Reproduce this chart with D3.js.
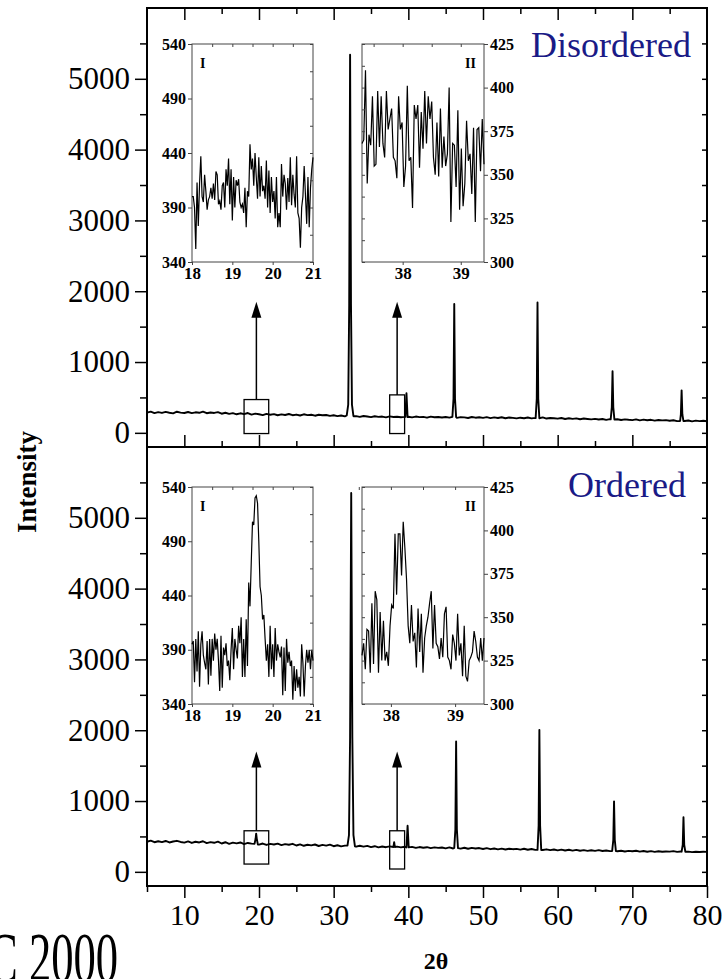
<!DOCTYPE html>
<html><head><meta charset="utf-8">
<script src="https://cdn.jsdelivr.net/npm/d3@7"></script>
<style>body{margin:0;background:#fff}</style>
</head><body>
<svg id="xrd" width="725" height="979"></svg>
<script>
// ---- data ----
var twoThetaTicks=[10,20,30,40,50,60,70,80];
var intensityTicks=[0,1000,2000,3000,4000,5000];

// background level every 0.5 deg from 5 to 80
var disorderedBase=[
 285,300,278,292,281,296,284,275,298,286,
 280,294,279,290,283,299,277,288,281,292,
 270,284,268,279,262,276,265,280,258,272,
 262,250,268,255,264,248,260,252,266,249,
 258,245,262,250,256,242,255,248,252,240,
 248,236,245,232,240,228,236,225,238,230,
 222,234,226,230,218,232,224,228,220,226,
 228,218,230,222,226,214,229,220,224,216,
 224,215,226,212,222,218,210,224,214,220,
 212,222,208,218,210,220,206,216,212,204,
 214,206,216,204,212,208,218,202,210,206,
 200,210,196,206,198,204,192,202,196,190,
 198,188,196,184,194,186,192,182,190,184,
 180,190,176,186,178,184,172,182,176,180,
 170,178,166,176,168,174,162,172,166,170,
 164];
var orderedBase=[
 425,440,418,432,420,436,415,428,438,422,
 412,430,408,425,415,432,405,420,410,426,
 400,418,396,412,402,415,392,408,398,412,
 385,400,380,395,386,398,378,392,382,396,
 372,388,368,382,374,386,365,380,370,384,
 362,375,360,370,358,372,355,368,356,366,
 350,362,346,358,348,360,344,356,345,354,
 342,352,338,350,340,348,335,346,338,344,
 332,345,330,342,328,340,326,338,330,336,
 322,334,320,330,318,328,316,326,320,324,
 314,326,312,322,310,320,308,318,306,316,
 304,314,302,312,300,310,298,306,296,304,
 296,306,294,302,292,300,290,298,288,296,
 290,298,286,294,284,292,282,290,284,288,
 286,292,282,288,280,286,278,284,280,284,
 282];

var disorderedPeaks=[
 [[31.75,245],[31.95,400],[32.08,1800],[32.2,5340],[32.32,1800],[32.45,400],[32.65,235]],
 [[39.6,225],[39.75,560],[39.9,222]],
 [[45.9,226],[46.05,480],[46.15,1820],[46.25,480],[46.4,222]],
 [[57.05,208],[57.2,480],[57.3,1840],[57.4,480],[57.55,206]],
 [[67.1,190],[67.25,360],[67.35,870],[67.45,360],[67.6,188]],
 [[76.4,168],[76.5,260],[76.6,600],[76.7,260],[76.85,166]]
];
var orderedPeaks=[
 [[19.4,395],[19.55,470],[19.62,540],[19.7,470],[19.85,385]],
 [[31.85,370],[32.05,520],[32.2,1900],[32.35,5350],[32.5,1900],[32.65,520],[32.85,360]],
 [[38.0,350],[38.1,420],[38.2,350]],
 [[39.75,345],[39.9,650],[40.05,345]],
 [[46.15,338],[46.3,600],[46.4,1840],[46.5,600],[46.65,335]],
 [[57.3,310],[57.45,650],[57.55,2005],[57.65,650],[57.8,308]],
 [[67.3,295],[67.45,450],[67.55,995],[67.65,450],[67.8,292]],
 [[76.6,285],[76.75,380],[76.85,770],[76.95,380],[77.1,284]]
];

// inset I: 18-21 deg, inset II: around 38 deg
var disI=[400,400,390,352,413,373,412,437,400,395,
 420,405,388,397,400,408,398,412,397,423,
 420,393,396,388,410,413,390,425,410,435,
 393,425,378,418,390,415,410,416,395,390,
 393,385,408,372,405,400,448,425,435,410,
 440,418,398,436,400,428,405,410,398,433,
 390,424,385,418,395,405,380,418,372,385,
 372,430,400,420,412,388,417,395,436,392,
 420,402,390,437,385,380,353,390,400,428,
 402,375,418,372,408,425,436];
var disII=[368,370,410,345,373,367,395,355,356,398,
 366,395,368,360,398,376,382,388,360,358,
 348,395,376,380,343,355,401,358,360,331,
 390,382,390,354,386,365,398,368,395,382,
 392,360,350,380,349,388,354,372,355,362,
 400,323,368,367,343,387,330,365,332,345,
 381,358,362,339,377,323,376,377,352,382,
 356];
var ordI=[395,398,360,400,370,407,356,395,407,385,
 378,372,398,358,400,366,400,380,405,390,
 400,380,352,403,355,392,385,396,375,380,
 362,390,410,372,400,390,382,412,396,420,
 365,400,365,418,375,452,
 430,470,508,505,530,532,525,490,448,440,418,422,
 400,380,395,365,412,372,395,365,410,380,
 395,388,383,393,348,392,352,400,378,388,
 375,380,344,375,352,372,355,365,347,395,
 378,347,375,390,378,390,372,390,380];
var ordII=[328,335,320,343,342,318,358,323,365,360,318,353,325,348,325,330,322,345,357,
 355,398,363,398,398,374,405,390,372,
 345,335,357,336,341,321,355,330,352,318,
 338,345,350,358,365,332,357,335,333,326,
 338,327,352,356,327,325,320,340,335,325,
 352,328,335,316,345,316,313,325,327,330,
 342,336,327,325,338,325,338];

var insetITicksX=[18,19,20,21], insetITicksY=[340,390,440,490,540];
var insetIITicksX=[38,39], insetIITicksY=[300,325,350,375,400,425];

// ---- drawing ----
var svg=d3.select("#xrd");
var serif="'Liberation Serif','Times New Roman',serif";
var navy="#1a1a86";

var x=d3.scaleLinear().domain([5,80]).range([147,707]);
var panels=[
 {name:"Disordered", base:disorderedBase, peaks:disorderedPeaks, top:8, bottom:447,
  insI:disI, insII:disII, iiDom:[37.3,39.4], iTop:44, iBot:262,
  box1:[18,21.3,-10,470], box2:[37.5,39.5,-10,536], arrowTip:1850, labelY:57, labelX:691},
 {name:"Ordered", base:orderedBase, peaks:orderedPeaks, top:447, bottom:886,
  insI:ordI, insII:ordII, iiDom:[37.55,39.45], iTop:487, iBot:704,
  box1:[18,21.3,110,580], box2:[37.5,39.5,40,580], arrowTip:1700, labelY:497, labelX:686}
];

function buildSeries(base,peaks){
  var pts=[];
  base.forEach(function(v,i){
    var t=5+i*0.5;
    var inPeak=peaks.some(function(p){return t>=p[0][0]&&t<=p[p.length-1][0];});
    if(!inPeak) pts.push([t,v]);
  });
  peaks.forEach(function(p){pts=pts.concat(p);});
  return pts.sort(function(a,b){return a[0]-b[0];});
}

function styleAxis(g,size,weight){
  g.select(".domain").remove();
  g.selectAll("line").attr("stroke","#000").attr("stroke-width",1.5);
  g.selectAll("text").attr("font-family",serif).attr("font-size",size)
   .attr("font-weight",weight||"normal").attr("fill","#000");
}
var fmt=d3.format("d");

panels.forEach(function(P,pi){
  var y=d3.scaleLinear().domain([-200,6000]).range([P.bottom,P.top]);
  var g=svg.append("g");

  // left axis
  g.append("g").attr("transform","translate(147,0)")
   .call(d3.axisLeft(y).tickValues(intensityTicks).tickSize(12).tickPadding(5).tickFormat(fmt))
   .call(styleAxis,"31px");
  g.append("g").attr("transform","translate(147,0)")
   .call(d3.axisLeft(y).tickValues([500,1500,2500,3500,4500,5500]).tickSize(7).tickFormat(""))
   .call(styleAxis,"1px");
  // right axis, inward
  g.append("g").attr("transform","translate(707,0)")
   .call(d3.axisRight(y).tickValues(d3.range(0,6000,500)).tickSize(-5).tickFormat(""))
   .call(styleAxis,"1px");

  // x ticks
  if(pi==0){
    g.append("g").attr("transform","translate(0,"+P.top+")")
     .call(d3.axisTop(x).tickValues(twoThetaTicks.slice(0,7)).tickSize(-12).tickFormat("")).call(styleAxis,"1px");
    g.append("g").attr("transform","translate(0,"+P.top+")")
     .call(d3.axisTop(x).tickValues([15,25,35,45,55,65,75]).tickSize(-6).tickFormat("")).call(styleAxis,"1px");
    g.append("g").attr("transform","translate(0,"+P.bottom+")")
     .call(d3.axisBottom(x).tickValues(twoThetaTicks.slice(0,7)).tickSize(-12).tickFormat("")).call(styleAxis,"1px");
    g.append("g").attr("transform","translate(0,"+P.bottom+")")
     .call(d3.axisBottom(x).tickValues([15,25,35,45,55,65,75]).tickSize(-6).tickFormat("")).call(styleAxis,"1px");
  } else {
    g.append("g").attr("transform","translate(0,"+P.bottom+")")
     .call(d3.axisBottom(x).tickValues(twoThetaTicks).tickSize(12).tickPadding(6).tickFormat(fmt)).call(styleAxis,"30px");
    g.append("g").attr("transform","translate(0,"+P.bottom+")")
     .call(d3.axisBottom(x).tickValues([5,15,25,35,45,55,65,75]).tickSize(6).tickFormat("")).call(styleAxis,"1px");
  }

  // pattern
  var line=d3.line().x(function(d){return x(d[0]);}).y(function(d){return y(d[1]);});
  g.append("path").datum(buildSeries(P.base,P.peaks))
   .attr("d",line).attr("fill","none").attr("stroke","#000").attr("stroke-width",1.9)
   .attr("stroke-linejoin","round");

  // zoom boxes and arrows
  [P.box1,P.box2].forEach(function(b){
    g.append("rect").attr("x",x(b[0])).attr("y",y(b[3]))
     .attr("width",x(b[1])-x(b[0])).attr("height",y(b[2])-y(b[3]))
     .attr("fill","none").attr("stroke","#000").attr("stroke-width",1.3);
    var cx=x((b[0]+b[1])/2), tip=y(P.arrowTip);
    g.append("line").attr("x1",cx).attr("x2",cx).attr("y1",y(b[3])).attr("y2",tip+12)
     .attr("stroke","#000").attr("stroke-width",1.5);
    g.append("path").attr("d","M"+cx+","+tip+"L"+(cx-5)+","+(tip+16)+"L"+(cx+5)+","+(tip+16)+"Z")
     .attr("fill","#000");
  });

  // frame
  g.append("rect").attr("x",147).attr("y",P.top).attr("width",560).attr("height",P.bottom-P.top)
   .attr("fill","none").attr("stroke","#000").attr("stroke-width",2);

  g.append("text").attr("x",P.labelX).attr("y",P.labelY).attr("text-anchor","end")
   .attr("font-family",serif).attr("font-size","36px").attr("fill",navy).text(P.name);

  // insets
  var xi=d3.scaleLinear().domain([18,21]).range([192,313]);
  var xii=d3.scaleLinear().domain(P.iiDom).range([362,484]);
  var yi=d3.scaleLinear().domain([340,540]).range([P.iBot,P.iTop]);
  var yii=d3.scaleLinear().domain([300,425]).range([P.iBot,P.iTop]);

  function inset(xs,ys,vals,ticksX,ticksY,side,tag,minorY,minorX){
    var ig=g.append("g");
    ig.append("rect").attr("x",xs.range()[0]).attr("y",P.iTop)
     .attr("width",xs.range()[1]-xs.range()[0]).attr("height",P.iBot-P.iTop)
     .attr("fill","#fff").attr("stroke","#444").attr("stroke-width",1);
    var n=vals.length, d0=xs.domain();
    var il=d3.line().x(function(d,i){return xs(d0[0]+i*(d0[1]-d0[0])/(n-1));}).y(function(d){return ys(d);});
    ig.append("path").datum(vals).attr("d",il).attr("fill","none")
     .attr("stroke","#000").attr("stroke-width",1.2);
    var ax=side=="left"?d3.axisLeft(ys):d3.axisRight(ys);
    var ex=side=="left"?xs.range()[0]:xs.range()[1];
    var oth=side=="left"?xs.range()[1]:xs.range()[0];
    ig.append("g").attr("transform","translate("+ex+",0)")
     .call(ax.tickValues(ticksY).tickSize(4).tickPadding(2).tickFormat(fmt)).call(styleAxis,"16px","bold");
    var ax2=side=="left"?d3.axisRight(ys):d3.axisLeft(ys);
    ig.append("g").attr("transform","translate("+oth+",0)")
     .call(ax2.tickValues(minorY).tickSize(-3).tickFormat("")).call(styleAxis,"1px");
    ig.append("g").attr("transform","translate(0,"+P.iBot+")")
     .call(d3.axisBottom(xs).tickValues(ticksX).tickSize(3).tickPadding(2).tickFormat(fmt)).call(styleAxis,"17px","bold");
    ig.append("g").attr("transform","translate(0,"+P.iTop+")")
     .call(d3.axisTop(xs).tickValues(minorX).tickSize(-3).tickFormat("")).call(styleAxis,"1px");
    ig.selectAll("line").attr("stroke","#444").attr("stroke-width",1);
    var tx=side=="left"?xs.range()[0]+8:xs.range()[1]-8;
    ig.append("text").attr("x",tx).attr("y",P.iTop+24).attr("text-anchor",side=="left"?"start":"end")
     .attr("font-family",serif).attr("font-weight","bold").attr("font-size","14px").text(tag);
  }
  inset(xi,yi,P.insI,insetITicksX,insetITicksY,"left","I",d3.range(340,541,25),[18.5,19,19.5,20,20.5]);
  inset(xii,yii,P.insII,insetIITicksX,insetIITicksY,"right","II",d3.range(300,426,12.5),[37.5,38,38.5,39]);
});

// axis titles
svg.append("text").attr("transform","translate(36,482) rotate(-90)").attr("text-anchor","middle")
 .attr("font-family",serif).attr("font-weight","bold").attr("font-size","27px").text("Intensity");
svg.append("text").attr("x",436).attr("y",969).attr("text-anchor","middle")
 .attr("font-family",serif).attr("font-weight","bold").attr("font-size","24px").text("2\u03b8");
svg.append("text").attr("transform","translate(-12,982) scale(0.72,1.15)").attr("font-family",serif)
 .attr("font-size","62px").text("C 2000");
</script></body></html>
